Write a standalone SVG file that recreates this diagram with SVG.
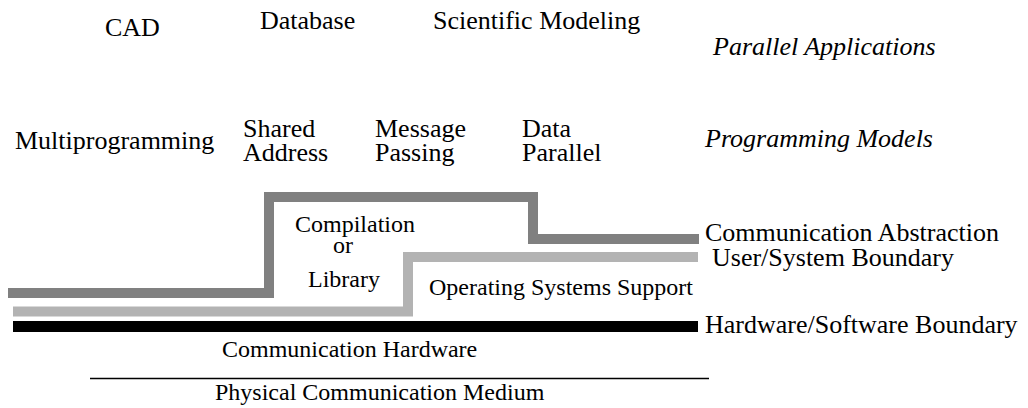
<svg xmlns="http://www.w3.org/2000/svg" width="1028" height="408" viewBox="0 0 1028 408">
<style>
text { font-family: "Liberation Serif", "Times New Roman", serif; fill: #000; }
.l { font-size: 26px; }
.s { font-size: 24px; }
.i { font-size: 26px; font-style: italic; }
.band { fill: none; stroke-linejoin: miter; stroke-linecap: butt; }
</style>
<rect width="1028" height="408" fill="#fff"/>
<g id="connectors">
  <path id="comm-abstraction-line" class="band" d="M8,293 H269 V197 H533 V239 H699" stroke="#808080" stroke-width="10"/>
  <path id="user-system-line" class="band" d="M13,311.5 H408 V257 H698" stroke="#b3b3b3" stroke-width="10"/>
  <path id="hw-sw-line" class="band" d="M13,326.5 H698" stroke="#000" stroke-width="11"/>
  <path id="medium-line" class="band" d="M90,378.5 H709" stroke="#000" stroke-width="1.5"/>
</g>
<g id="applications">
  <text id="cad" class="l" x="105" y="36">CAD</text>
  <text id="database" class="l" x="260" y="28.5">Database</text>
  <text id="scientific" class="l" x="433" y="28.5">Scientific Modeling</text>
  <text id="parallel-apps" class="i" x="713" y="55">Parallel Applications</text>
</g>
<g id="models">
  <text id="multiprogramming" class="l" x="15" y="149">Multiprogramming</text>
  <text id="shared-address" class="l"><tspan x="243" y="137">Shared</tspan><tspan x="243" y="161">Address</tspan></text>
  <text id="message-passing" class="l"><tspan x="375" y="137">Message</tspan><tspan x="375" y="161">Passing</tspan></text>
  <text id="data-parallel" class="l"><tspan x="522" y="137">Data</tspan><tspan x="522" y="161">Parallel</tspan></text>
  <text id="programming-models" class="i" x="705" y="147">Programming Models</text>
</g>
<g id="compilation">
  <text class="s" x="295" y="231.5">Compilation</text>
  <text class="s" x="333" y="253">or</text>
  <text class="s" x="308" y="287">Library</text>
</g>
<g id="os-support">
  <text class="s" x="429" y="295">Operating Systems Support</text>
</g>
<g id="boundaries">
  <text id="comm-abstraction" class="l" x="705" y="241">Communication Abstraction</text>
  <text id="user-system" class="l" x="712" y="266">User/System Boundary</text>
  <text id="hw-sw" class="l" x="705" y="333">Hardware/Software Boundary</text>
</g>
<g id="hardware">
  <text id="comm-hardware" class="s" x="222" y="357">Communication Hardware</text>
  <text id="physical-medium" class="s" x="215" y="399.5">Physical Communication Medium</text>
</g>
</svg>
